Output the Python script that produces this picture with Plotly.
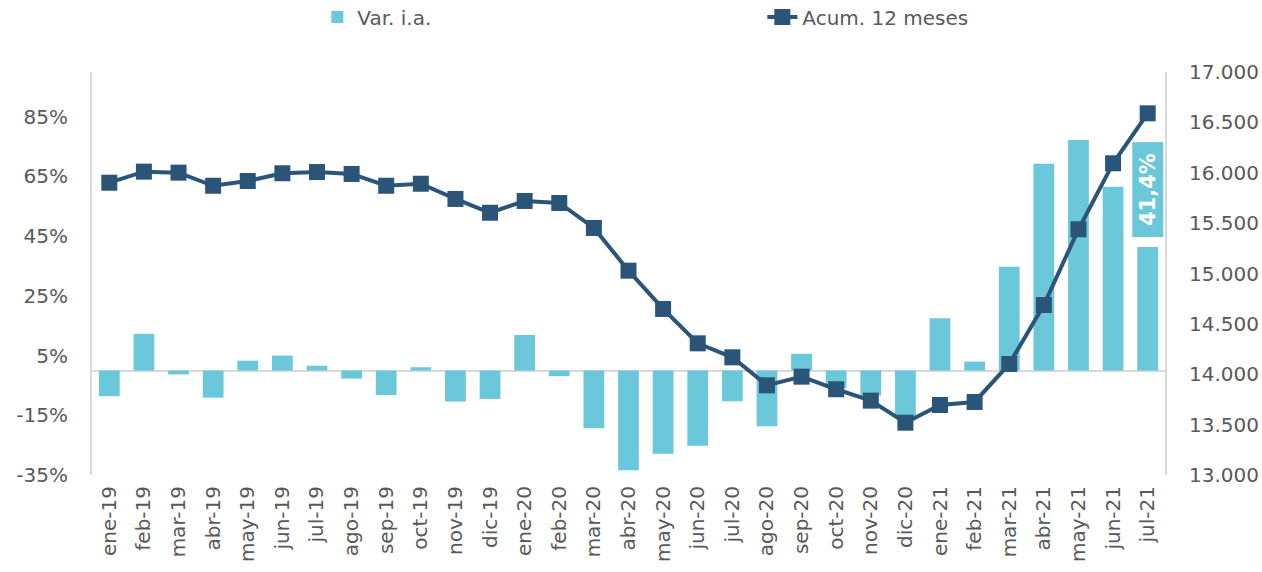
import plotly.graph_objects as go

months = ["ene-19","feb-19","mar-19","abr-19","may-19","jun-19","jul-19","ago-19","sep-19","oct-19","nov-19","dic-19",
          "ene-20","feb-20","mar-20","abr-20","may-20","jun-20","jul-20","ago-20","sep-20","oct-20","nov-20","dic-20",
          "ene-21","feb-21","mar-21","abr-21","may-21","jun-21","jul-21"]

var_ia = [-8.6, 12.3, -1.3, -9.1, 3.3, 5.0, 1.6, -2.7, -8.2, 1.1, -10.4, -9.5,
          11.9, -1.9, -19.3, -33.4, -27.9, -25.2, -10.3, -18.7, 5.6, -6.0, -8.4, -15.6,
          17.5, 3.0, 34.8, 69.3, 77.2, 61.6, 41.4]

acum_12 = [15901, 16011, 16001, 15871, 15918, 15995, 16007, 15988, 15871, 15891, 15740, 15603,
           15720, 15700, 15452, 15028, 14648, 14307, 14168, 13890, 13976, 13851, 13738, 13519,
           13695, 13725, 14102, 14687, 15439, 16094, 16590]

left_ticks = [-35, -15, 5, 25, 45, 65, 85]
left_labels = ["-35%", "-15%", "5%", "25%", "45%", "65%", "85%"]
right_ticks = [13000, 13500, 14000, 14500, 15000, 15500, 16000, 16500, 17000]

BAR = "#6AC8DA"
LINE = "#2B5479"
TXT = "#595959"
AXL = "#D9D9D9"
FONT = "DejaVu Sans"

fig = go.Figure()
fig.add_trace(go.Bar(x=months, y=var_ia, name="Var. i.a.", marker_color=BAR,
                     marker_line_width=0, yaxis="y"))
fig.add_trace(go.Scatter(x=months, y=acum_12, name="Acum. 12 meses", mode="lines+markers",
                         line=dict(color=LINE, width=4),
                         marker=dict(symbol="square", size=16, color=LINE),
                         yaxis="y2"))

fig.add_annotation(x=months[-1], y=60.5, xref="x", yref="y", text="<b>41,4%</b>",
                   textangle=-90, showarrow=False, bgcolor=BAR, width=86, height=22,
                   font=dict(family=FONT, size=21, color="white"), borderpad=4)

fig.update_layout(
    width=1262, height=572,
    margin=dict(l=92, r=97, t=72, b=97),
    paper_bgcolor="white", plot_bgcolor="white",
    separators=",.",
    font=dict(family=FONT, size=20, color=TXT),
    bargap=0.4,
    showlegend=True,
    legend=dict(orientation="h", x=0.21, xanchor="left", yref="container",
                y=1 - 17 / 572, yanchor="middle",
                entrywidth=400, entrywidthmode="pixels",
                font=dict(family=FONT, size=20, color=TXT)),
    xaxis=dict(type="category", range=[-0.5, 30.5], tickangle=-90, showgrid=False,
               showline=False, ticks="", automargin=False,
               tickfont=dict(family=FONT, size=20, color=TXT), ticklabelstandoff=6),
    yaxis=dict(range=[-35, 100], tickvals=left_ticks, ticktext=left_labels, showgrid=False,
               zeroline=True, zerolinecolor=AXL, zerolinewidth=2, automargin=False,
               showline=True, linecolor=AXL, linewidth=2, ticks="", ticklabelstandoff=18,
               tickfont=dict(family=FONT, size=20, color=TXT)),
    yaxis2=dict(range=[13000, 17000], tickvals=right_ticks, tickformat=",d", overlaying="y",
                side="right", showgrid=False, zeroline=False, automargin=False,
                showline=True, linecolor=AXL, linewidth=2, ticks="", ticklabelstandoff=18,
                tickfont=dict(family=FONT, size=20, color=TXT)),
)

fig.write_html("out.html", config={"displayModeBar": False},
               post_script="document.body.style.margin='0';")
